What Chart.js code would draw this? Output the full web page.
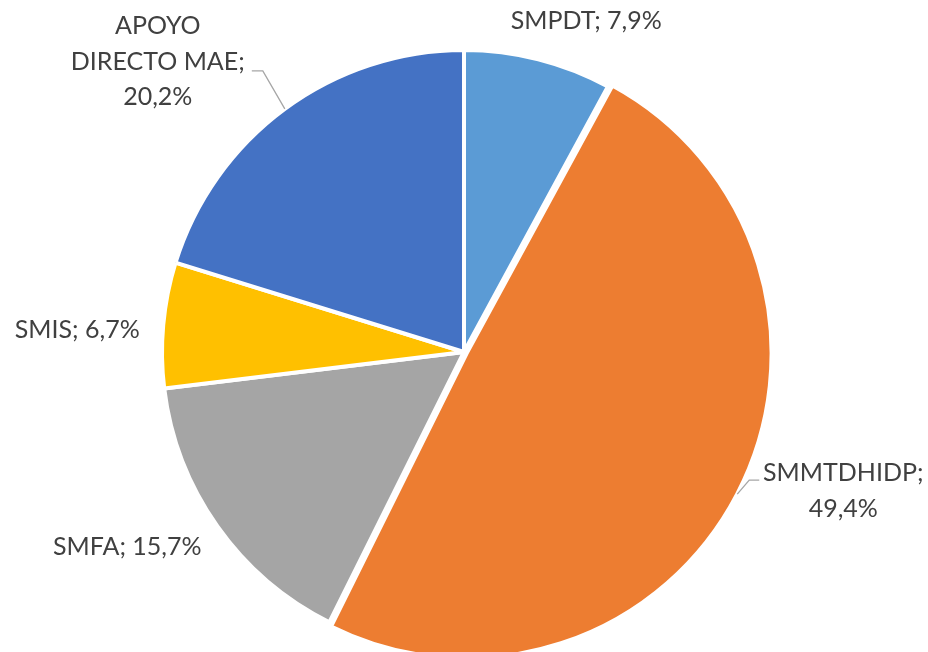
<!DOCTYPE html>
<html>
<head>
<meta charset="utf-8">
<script src="https://cdn.jsdelivr.net/npm/chart.js@4.4.1/dist/chart.umd.min.js"></script>
<style>
  html, body { margin: 0; padding: 0; background: #fff; }
  #wrap { width: 928px; height: 652px; }
</style>
</head>
<body>
<div id="wrap"><canvas id="pie" width="928" height="652"></canvas></div>
<script>
const categories = ['SMPDT', 'SMMTDHIDP', 'SMFA', 'SMIS', 'APOYO DIRECTO MAE'];
const shares = [7.9, 49.4, 15.7, 6.7, 20.2];
const colors = ['#5B9BD5', '#ED7D31', '#A5A5A5', '#FFC000', '#4472C4'];

// label text lines per slice, and where the text sits relative to the slice's outer mid point
const labelLines = [
  ['SMPDT; 7,9%'],
  ['SMMTDHIDP;', '49,4%'],
  ['SMFA; 15,7%'],
  ['SMIS; 6,7%'],
  ['APOYO', 'DIRECTO MAE;', '20,2%']
];
const labelShift = [[48, -38], [106, -3], [-90, 21], [-86, 5], [-127, -47]];
const leaders = [null, [[12, -14], [22, -14]], null, null, [[-22, -38], [-33, -38]]];

const labelPlugin = {
  id: 'outLabels',
  afterDatasetsDraw(chart) {
    const ctx = chart.ctx;
    const arcs = chart.getDatasetMeta(0).data;
    ctx.save();
    ctx.font = '25px Lato';
    ctx.fillStyle = '#404040';
    ctx.textAlign = 'center';
    ctx.textBaseline = 'middle';
    arcs.forEach((arc, i) => {
      const p = arc.getProps(['x', 'y', 'startAngle', 'endAngle', 'outerRadius']);
      const mid = (p.startAngle + p.endAngle) / 2;
      // chart.js shifts an offset arc by offset/4 and grows it by offset/4
      const off = (arc.options.offset || 0) / 2;
      const ex = p.x + Math.cos(mid) * (p.outerRadius + off);
      const ey = p.y + Math.sin(mid) * (p.outerRadius + off);
      if (leaders[i]) {
        ctx.strokeStyle = '#A6A6A6';
        ctx.lineWidth = 1.3;
        ctx.beginPath();
        ctx.moveTo(ex, ey);
        leaders[i].forEach(q => ctx.lineTo(ex + q[0], ey + q[1]));
        ctx.stroke();
      }
      const lines = labelLines[i];
      const lh = 35.5;
      const cx = ex + labelShift[i][0];
      const cy = ey + labelShift[i][1];
      lines.forEach((t, k) => {
        ctx.fillText(t, cx, cy + (k - (lines.length - 1) / 2) * lh);
      });
    });
    ctx.restore();
  }
};

new Chart(document.getElementById('pie').getContext('2d'), {
  type: 'pie',
  data: {
    labels: categories,
    datasets: [{
      data: shares,
      backgroundColor: colors,
      borderColor: '#ffffff',
      borderWidth: 4,
      offset: [0, 12, 0, 0, 0],
      radius: 302
    }]
  },
  options: {
    responsive: false,
    animation: false,
    layout: { padding: { top: 52, bottom: 0, left: 0, right: -2 } },
    plugins: {
      legend: { display: false },
      tooltip: { enabled: false }
    }
  },
  plugins: [labelPlugin]
});
</script>
</body>
</html>
